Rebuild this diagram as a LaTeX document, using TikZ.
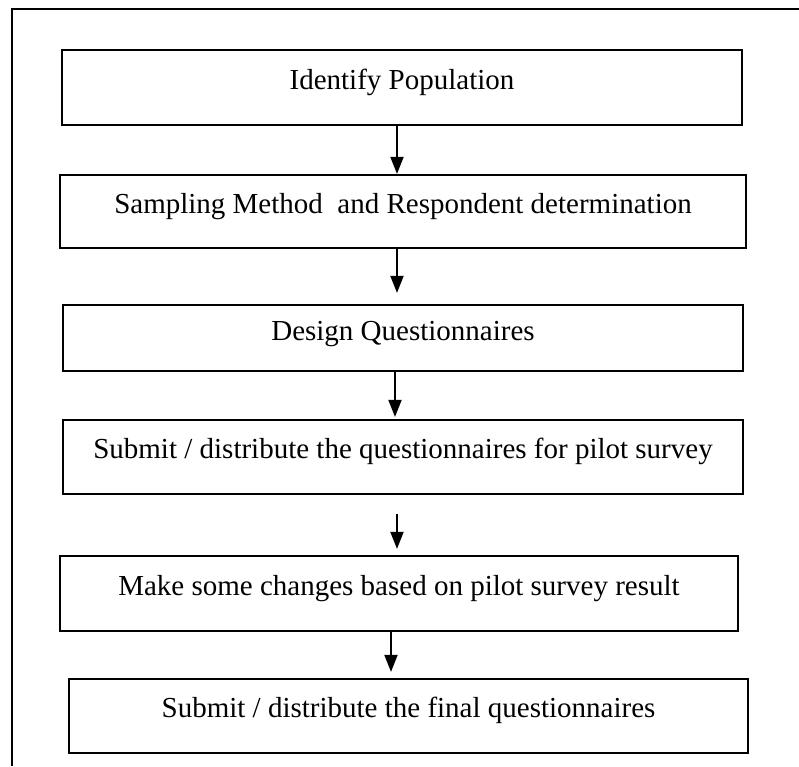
\documentclass[tikz,border=0pt]{standalone}
\usepackage{fontspec}
\setmainfont{Liberation Serif}
\usetikzlibrary{arrows.meta}
\begin{document}
\begin{tikzpicture}[x=1pt,y=-1pt,
  stepbox/.style={draw=black, line width=2.2pt, inner sep=0pt, font=\fontsize{29}{34}\selectfont, align=center},
  arr/.style={line width=1.9pt, -{Triangle[length=17pt,width=13pt]}}]
\useasboundingbox (0,0) rectangle (799,766);
\fill[white] (0,0) rectangle (799,766);
% outer frame (cut at the image edge)
\draw[line width=2.2pt] (799,9) -- (12,9) -- (12,766);
% boxes
\node[stepbox, minimum width=680pt, text height=39pt, text depth=36pt] (b1) at (402,87.5) {Identify Population};
\node[stepbox, minimum width=686pt, text height=38pt, text depth=35pt] (b2) at (403,211.5) {Sampling Method\ \ and Respondent determination};
\node[stepbox, minimum width=680pt, text height=35pt, text depth=31pt] (b3) at (403,338) {Design Questionnaires};
\node[stepbox, minimum width=680pt, text height=38.5pt, text depth=35.5pt] (b4) at (403,457) {Submit / distribute the questionnaires for pilot survey};
\node[stepbox, minimum width=678pt, text height=39pt, text depth=36pt] (b5) at (399,593.5) {Make some changes based on pilot survey result};
\node[stepbox, minimum width=679pt, text height=38.5pt, text depth=35.5pt] (b6) at (408.5,716) {Submit / distribute the final questionnaires};
% arrow columns
\coordinate (x1) at (397,0);
\coordinate (x2) at (397,0);
\coordinate (x3) at (395,0);
\coordinate (x4) at (397,0);
\coordinate (x5) at (391,0);
\draw[arr] (b1.south -| x1) -- (b2.north -| x1);
\draw[arr, shorten >=11pt] (b2.south -| x2) -- (b3.north -| x2);
\draw[arr, shorten >=2pt] (b3.south -| x3) -- (b4.north -| x3);
\draw[arr, shorten <=19pt, shorten >=6pt] (b4.south -| x4) -- (b5.north -| x4);
\draw[arr, shorten >=6pt] (b5.south -| x5) -- (b6.north -| x5);
\end{tikzpicture}
\end{document}
